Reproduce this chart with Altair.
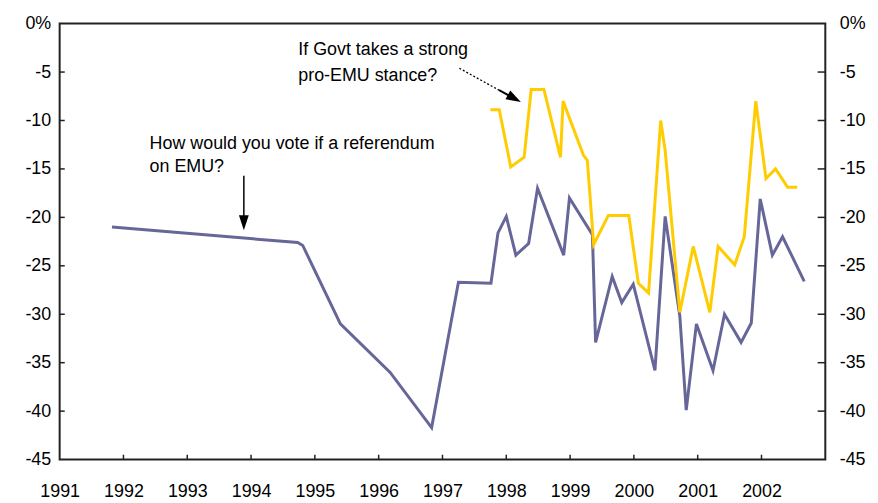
import altair as alt
import pandas as pd

# ---- data (decimal years, net % in favour) ----
vote_year = [1991.82, 1994.73, 1994.81, 1995.40, 1996.18, 1996.83, 1997.25, 1997.76, 1997.87,
             1998.00, 1998.15, 1998.35, 1998.49, 1998.90, 1998.99, 1999.35, 1999.40,
             1999.66, 1999.81, 1999.99, 2000.33, 2000.49, 2000.72, 2000.82, 2000.98,
             2001.24, 2001.42, 2001.68, 2001.84, 2001.98, 2002.17, 2002.33, 2002.67]
vote_val = [-21.0, -22.6, -22.9, -31.0, -36.0, -41.7, -26.7, -26.8, -21.6,
            -19.9, -23.9, -22.7, -17.0, -23.9, -18.0, -21.8, -32.9,
            -26.1, -28.8, -26.9, -35.8, -19.9, -30.2, -39.9, -31.0,
            -35.8, -30.0, -32.9, -30.9, -18.1, -23.9, -22.0, -26.6]

govt_year = [1997.75, 1997.89, 1998.07, 1998.28, 1998.39, 1998.59, 1998.85, 1998.89,
             1999.21, 1999.27, 1999.37, 1999.60, 1999.92, 2000.07, 2000.23, 2000.42,
             2000.49, 2000.72, 2000.93, 2001.19, 2001.32, 2001.58, 2001.73, 2001.91,
             2002.07, 2002.22, 2002.41, 2002.56]
govt_val = [-8.9, -8.9, -14.8, -13.8, -6.8, -6.8, -13.8, -8.0,
            -13.6, -14.1, -22.8, -19.8, -19.8, -26.8, -27.8, -10.0,
            -13.1, -29.8, -23.0, -29.8, -23.0, -24.9, -22.0, -8.0,
            -16.0, -15.0, -16.9, -16.9]

series_names = ["How would you vote", "If Govt takes a strong pro-EMU stance"]
series_colors = ["#666699", "#FFCC00"]

year_labels = list(range(1991, 2003))
year_ticks = list(range(1992, 2003))
pct_ticks = [0, -5, -10, -15, -20, -25, -30, -35, -40, -45]

# annotation texts and their anchor points (data coordinates)
note1_lines = ["How would you vote if a referendum", "on EMU?"]
note1_year = [1992.41, 1992.41]
note1_val = [-12.9, -15.3]
note2_lines = ["If Govt takes a strong", "pro-EMU stance?"]
note2_year = [1994.74, 1994.74]
note2_val = [-3.25, -5.95]

# ---- frames ----
df = pd.concat([
    pd.DataFrame({"year": vote_year, "value": vote_val, "series": series_names[0]}),
    pd.DataFrame({"year": govt_year, "value": govt_val, "series": series_names[1]}),
])
notes = pd.DataFrame({
    "year": note1_year + note2_year,
    "value": note1_val + note2_val,
    "text": note1_lines + note2_lines,
})
# inward tick marks (bottom, left, right) built from the tick lists
xt = pd.DataFrame({"year": year_ticks, "lo": -45.0, "hi": -44.5})
ytl = pd.DataFrame({"value": pct_ticks[1:-1], "lo": 1991.0, "hi": 1991.08})
ytr = pd.DataFrame({"value": pct_ticks[1:-1], "lo": 2002.88, "hi": 2003.0})
one = pd.DataFrame({"a": [0]})

FONT = "Liberation Sans"
xscale = alt.Scale(domain=[1991, 2003], nice=False, zero=False)
yscale = alt.Scale(domain=[-45, 0], nice=False, zero=False)
label_expr = "datum.value == 0 ? '0%' : '-' + abs(datum.value)"

XAXIS = alt.Axis(values=year_labels, format="d", ticks=False, tickSize=0, title=None,
                 domain=False, grid=False, labelPadding=23, labelFontSize=18,
                 labelFont=FONT, labelColor="black", labelBaseline="top",
                 labelFlush=False, labelOverlap=False)
YAXIS = alt.Axis(values=pct_ticks, labelExpr=label_expr, ticks=False, title=None,
                 tickSize=0, domain=False, grid=False, labelPadding=9,
                 labelFontSize=18, labelFont=FONT, labelColor="black",
                 labelFlush=False, labelOverlap=False)
YAXIS_R = alt.Axis(orient="right", values=pct_ticks, labelExpr=label_expr, title=None,
                   ticks=False, tickSize=0, domain=False, grid=False,
                   labelPadding=14, labelFontSize=18, labelFont=FONT,
                   labelColor="black", labelFlush=False, labelOverlap=False)


def xf(field):
    return alt.X(field, type="quantitative", scale=xscale, axis=XAXIS, title=None)


def yf(field):
    return alt.Y(field, type="quantitative", scale=yscale, axis=YAXIS, title=None)


def xd(v):
    return alt.X(datum=v, type="quantitative", scale=xscale, axis=XAXIS, title=None)


def yd(v):
    return alt.Y(datum=v, type="quantitative", scale=yscale, axis=YAXIS, title=None)


def yn(field):
    return alt.Y(field, type="quantitative", scale=yscale, axis=None, title=None)


lines = alt.Chart(df).mark_line(strokeWidth=3).encode(
    x=xf("year"), y=yf("value"),
    color=alt.Color("series:N", scale=alt.Scale(domain=series_names, range=series_colors),
                    legend=None),
    order="year:Q",
)

texts = alt.Chart(notes).mark_text(align="left", baseline="alphabetic", fontSize=18,
                                   font=FONT, color="black").encode(
    x=xf("year"), y=yf("value"), text="text:N",
)

head_shape = "M -0.66 -1 L 0.66 -1 L 0 1 Z"
arrow1_line = alt.Chart(one).mark_rule(color="black", strokeWidth=1.5).encode(
    x=xd(1993.887), y=yd(-15.7), y2=alt.datum(-20.4))
arrow1_head = alt.Chart(one).mark_point(
    shape=head_shape, size=225, filled=True, color="black", opacity=1).encode(
    x=xd(1993.887), y=yd(-20.55))
arrow2_dots = alt.Chart(one).mark_rule(
    color="black", strokeWidth=1.3, strokeDash=[2, 2]).encode(
    x=xd(1997.265), y=yd(-4.61), x2=alt.datum(1997.887), y2=alt.datum(-6.87))
arrow2_line = alt.Chart(one).mark_rule(color="black", strokeWidth=2).encode(
    x=xd(1997.887), y=yd(-6.87), x2=alt.datum(1998.127), y2=alt.datum(-7.73))
arrow2_head = alt.Chart(one).mark_point(
    shape=head_shape, size=225, filled=True, color="black", opacity=1, angle=299).encode(
    x=xd(1998.127), y=yd(-7.73))

# tick layers: own (identical) y scale, no y axis
bottom_ticks = alt.Chart(xt).mark_rule(color="#222", strokeWidth=1.5).encode(
    x=xf("year"), y=yn("lo"), y2="hi:Q",
)
left_ticks = alt.Chart(ytl).mark_rule(color="#222", strokeWidth=1.5).encode(
    y=yn("value"), x=xf("lo"), x2="hi:Q",
)
right_ticks = alt.Chart(ytr).mark_rule(color="#222", strokeWidth=1.5).encode(
    y=yn("value"), x=xf("lo"), x2="hi:Q",
)

right_axis = alt.Chart(df).mark_line(opacity=0).encode(
    x=xf("year"),
    y=alt.Y("value:Q", scale=yscale, axis=YAXIS_R, title=None),
    detail="series:N",
)

main = alt.layer(lines, texts, arrow1_line, arrow1_head, arrow2_dots, arrow2_line, arrow2_head)

chart = alt.layer(main, right_axis, bottom_ticks, left_ticks, right_ticks).resolve_scale(
    y="independent"
).properties(
    width=771, height=439,
    autosize=alt.AutoSizeParams(type="none"),
    padding={"left": 52, "top": 14, "right": 45, "bottom": 40},
    background="white",
).configure_view(stroke="#222", strokeWidth=2)

chart.save("out.html", embed_options={"renderer": "svg", "actions": False})
